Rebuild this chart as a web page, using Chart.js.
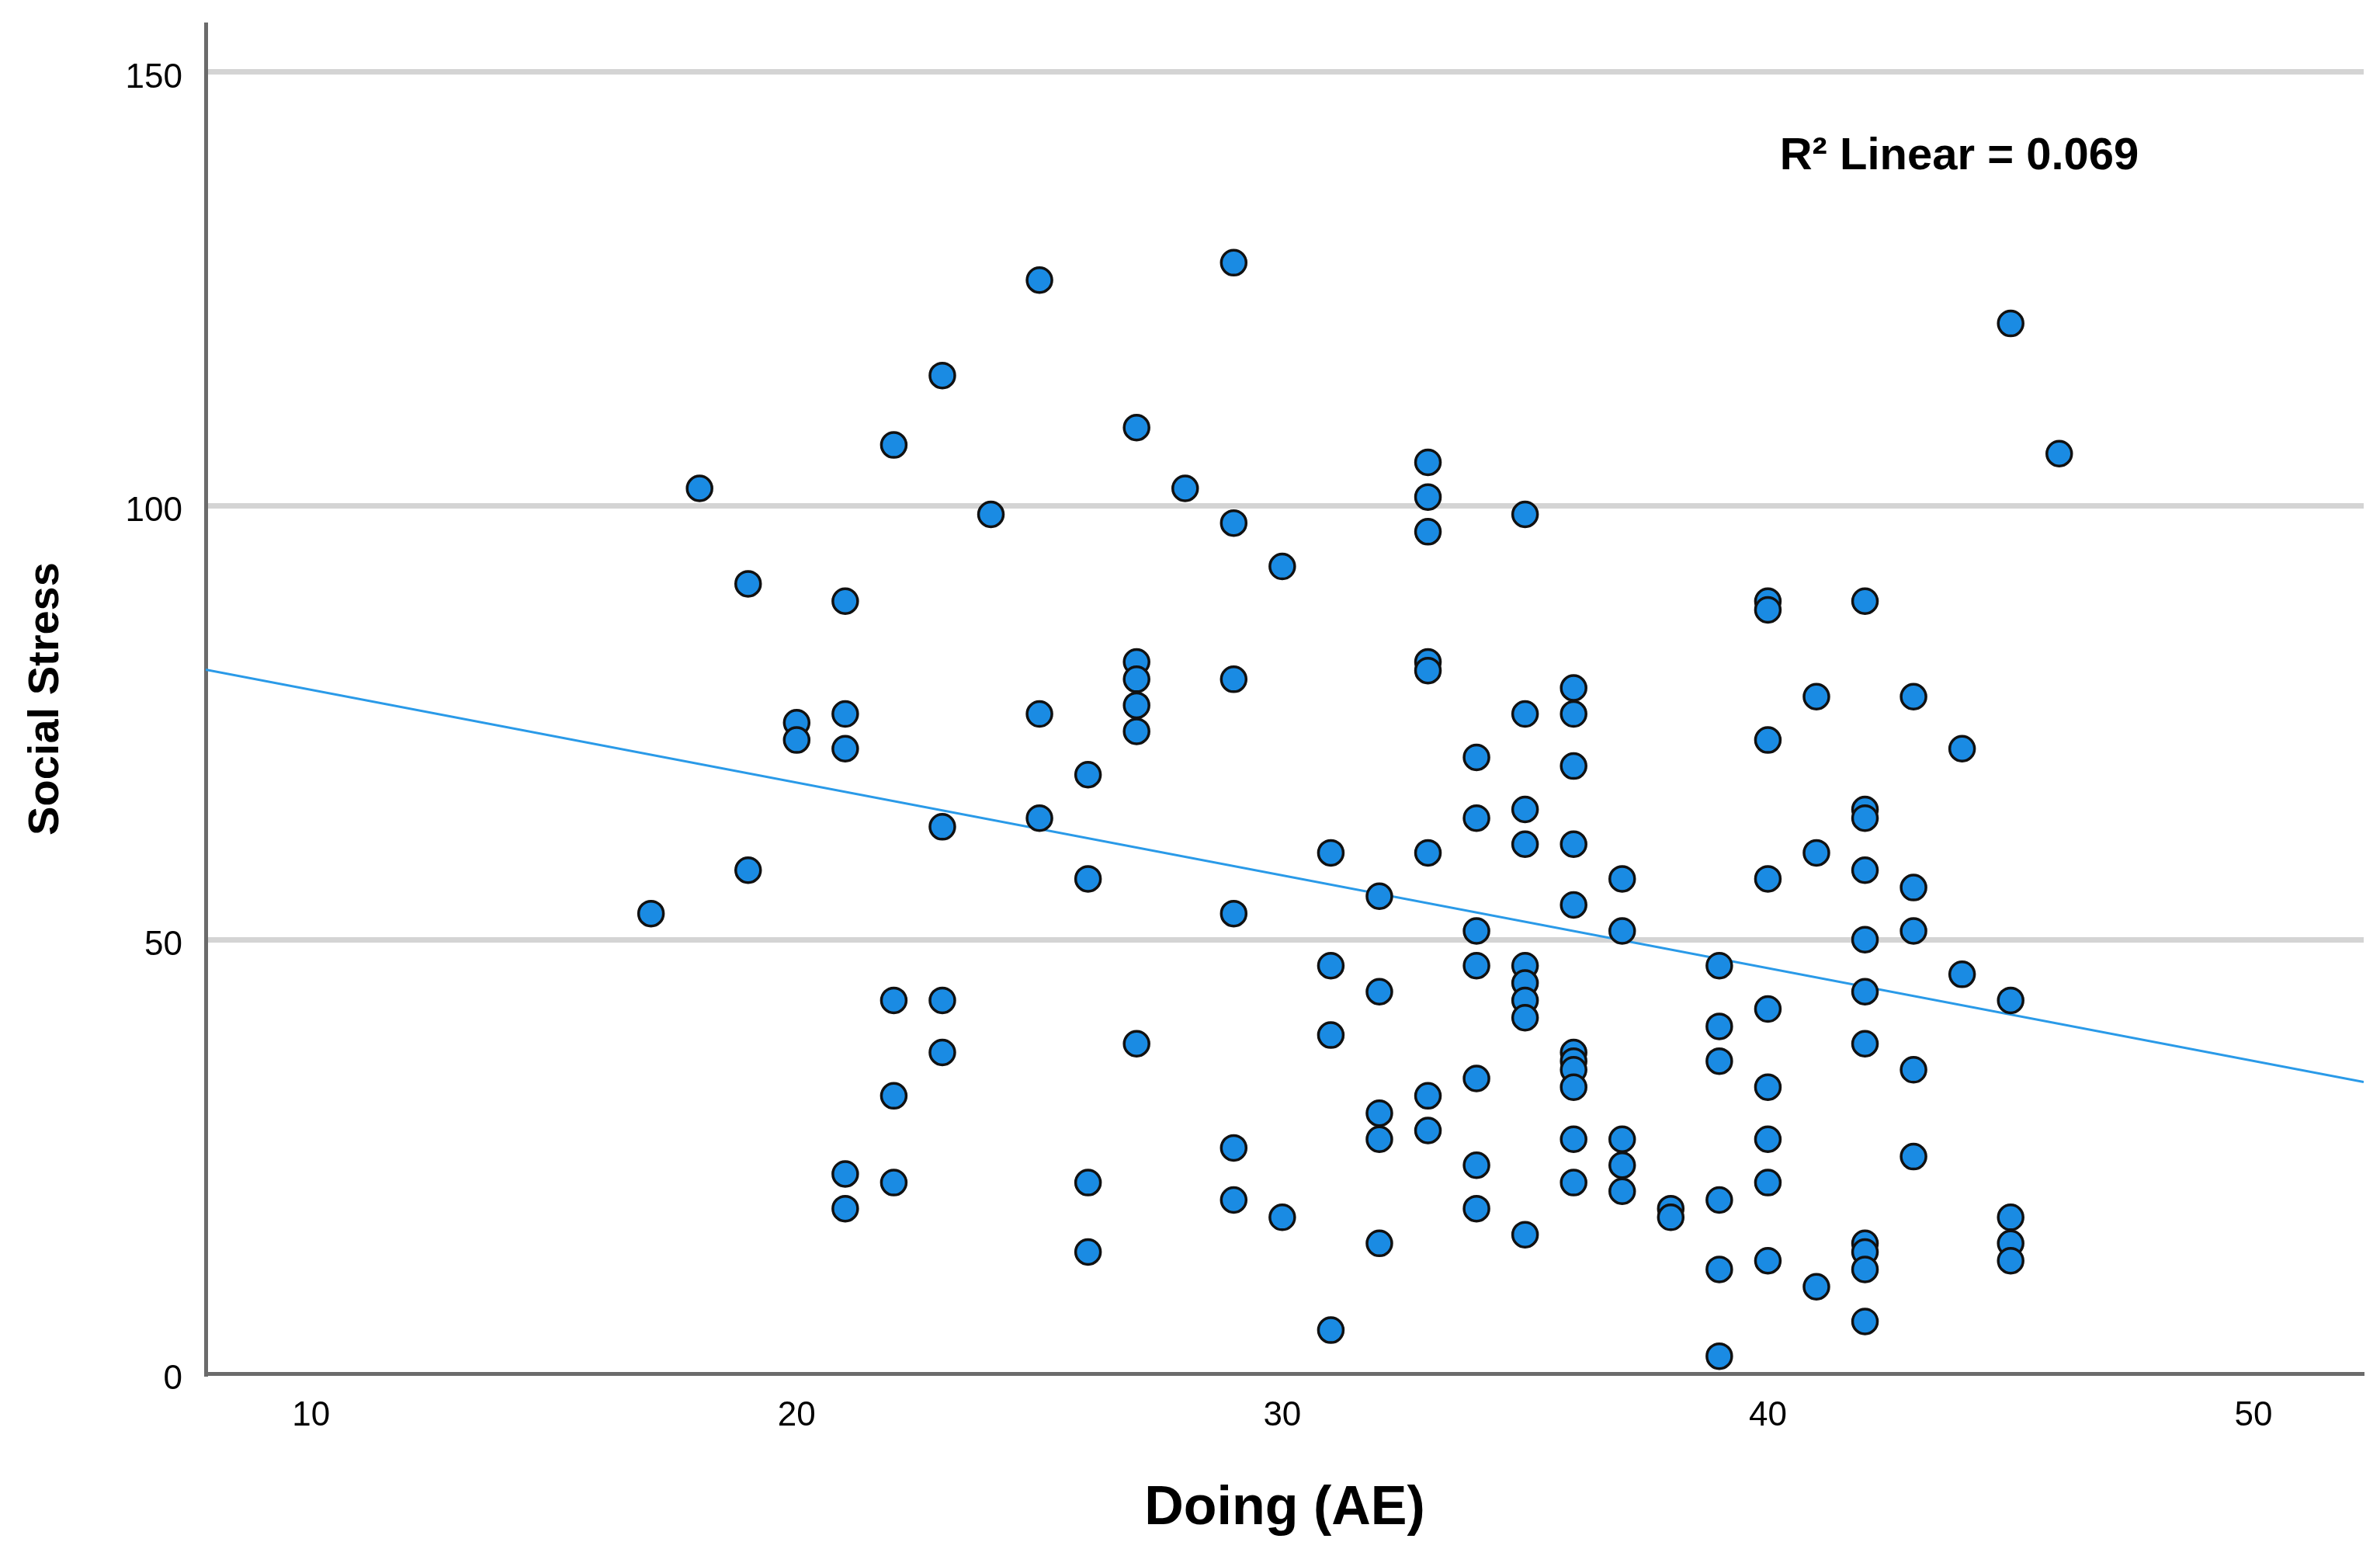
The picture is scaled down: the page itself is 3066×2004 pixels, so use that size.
<!DOCTYPE html>
<html>
<head>
<meta charset="utf-8">
<script src="https://cdn.jsdelivr.net/npm/chart.js@4"></script>
<style>
  html, body { margin: 0; padding: 0; background: #fff; }
  #wrap { width: 3066px; height: 2004px; }
</style>
</head>
<body>
<div id="wrap"><canvas id="scatter" width="3066" height="2004"></canvas></div>
<script>
// Doing (AE) vs Social Stress, one entry per respondent
var doingAE = [
    17, 18, 19, 19, 20, 20,
    21, 21, 21, 21, 21,
    22, 22, 22, 22,
    23, 23, 23, 23,
    24, 25, 25, 25,
    26, 26, 26, 26,
    27, 27, 27, 27, 27, 27,
    28, 29, 29, 29, 29, 29, 29,
    30, 30, 31, 31, 31, 31,
    32, 32, 32, 32, 32,
    33, 33, 33, 33, 33, 33, 33, 33,
    34, 34, 34, 34, 34, 34, 34,
    35, 35, 35, 35, 35, 35, 35, 35, 35,
    36, 36, 36, 36, 36, 36, 36, 36, 36, 36, 36,
    37, 37, 37, 37, 37,
    38, 38,
    39, 39, 39, 39, 39, 39,
    40, 40, 40, 40, 40, 40, 40, 40, 40,
    41, 41, 41,
    42, 42, 42, 42, 42, 42, 42, 42, 42, 42, 42,
    43, 43, 43, 43, 43,
    44, 44,
    45, 45, 45, 45, 45,
    46
];
var socialStress = [
    53, 102, 91, 58, 75, 73,
    89, 76, 72, 23, 19,
    107, 43, 32, 22,
    115, 63, 43, 37,
    99, 126, 76, 64,
    69, 57, 22, 14,
    109, 82, 80, 77, 74, 38,
    102, 128, 98, 80, 53, 26, 20,
    93, 18, 60, 47, 39, 5,
    55, 44, 30, 27, 15,
    105, 101, 97, 82, 81, 60, 32, 28,
    71, 64, 51, 47, 34, 24, 19,
    99, 76, 65, 61, 47, 45, 43, 41, 16,
    79, 76, 70, 61, 54, 37, 36, 35, 33, 27, 22,
    57, 51, 27, 24, 21,
    19, 18,
    47, 40, 36, 20, 12, 2,
    89, 88, 73, 57, 42, 33, 27, 22, 13,
    78, 60, 10,
    89, 65, 64, 58, 50, 44, 38, 15, 14, 12, 6,
    78, 56, 51, 35, 25,
    72, 46,
    121, 43, 18, 15, 13,
    106
];

// fit line (ends at the axis limits)
var fitX = [7.83, 52.27];
var fitY = [81.1, 33.6];

var xTicks = [10, 20, 30, 40, 50];
var yTicks = [0, 50, 100, 150];
var rSquaredLabel = 'R\u00b2 Linear = 0.069';

var font = '"Liberation Sans", Arial, sans-serif';

var points = doingAE.map(function(x, i) { return {x: x, y: socialStress[i]}; });
var fit = fitX.map(function(x, i) { return {x: x, y: fitY[i]}; });

var r2Label = {
    id: 'r2Label',
    afterDraw: function(chart) {
        var c = chart.ctx;
        c.save();
        c.font = 'bold 58px ' + font;
        c.fillStyle = '#000';
        c.textAlign = 'center';
        c.textBaseline = 'middle';
        c.fillText(rSquaredLabel, 2524, 202);
        c.restore();
    }
};

var ctx = document.getElementById('scatter');
var chart = new Chart(ctx, {
    type: 'scatter',
    data: {
        datasets: [{
            data: points,
            backgroundColor: '#1a8be3',
            borderColor: '#111',
            borderWidth: 3.5,
            pointRadius: 16,
            order: 1
        }, {
            type: 'line',
            data: fit,
            borderColor: '#2a9ae8',
            borderWidth: 3,
            pointRadius: 0,
            fill: false,
            order: 2
        }]
    },
    options: {
        responsive: false,
        devicePixelRatio: 1,
        animation: false,
        layout: { padding: { left: 0, right: 21, top: 31, bottom: 0 } },
        scales: {
            x: {
                type: 'linear',
                min: fitX[0],
                max: fitX[1],
                afterBuildTicks: function(s) { s.ticks = xTicks.map(function(v) { return {value: v}; }); },
                afterFit: function(s) {
                    s.height = 235;
                    s.paddingLeft = 0;
                    s.paddingRight = 0;
                },
                grid: { display: false, drawTicks: false },
                border: { display: true, color: '#6b6b6b', width: 5 },
                ticks: {
                    color: '#000',
                    padding: 28,
                    maxRotation: 0,
                    autoSkip: false,
                    font: { family: font, size: 44 }
                },
                title: {
                    display: true,
                    text: 'Doing (AE)',
                    color: '#000',
                    font: { family: font, size: 70, weight: 'bold' },
                    padding: { top: 0, bottom: 18 }
                }
            },
            y: {
                min: 0,
                max: 155.5,
                afterBuildTicks: function(s) { s.ticks = yTicks.map(function(v) { return {value: v}; }); },
                afterFit: function(s) {
                    s.width = 265;
                    s.paddingTop = 0;
                    s.paddingBottom = 0;
                },
                grid: {
                    drawTicks: false,
                    lineWidth: 7,
                    color: function(c) { return c.tick && c.tick.value === 0 ? 'rgba(0,0,0,0)' : '#d4d4d4'; }
                },
                border: { display: true, color: '#6b6b6b', width: 5 },
                ticks: {
                    color: '#000',
                    padding: 30,
                    labelOffset: 8,
                    font: { family: font, size: 44 }
                },
                title: {
                    display: true,
                    text: 'Social Stress',
                    color: '#000',
                    font: { family: font, size: 56, weight: 'bold' },
                    padding: { top: 26, bottom: 0 }
                }
            }
        },
        plugins: {
            legend: { display: false },
            tooltip: { enabled: false }
        }
    },
    plugins: [r2Label]
});
</script>
</body>
</html>
